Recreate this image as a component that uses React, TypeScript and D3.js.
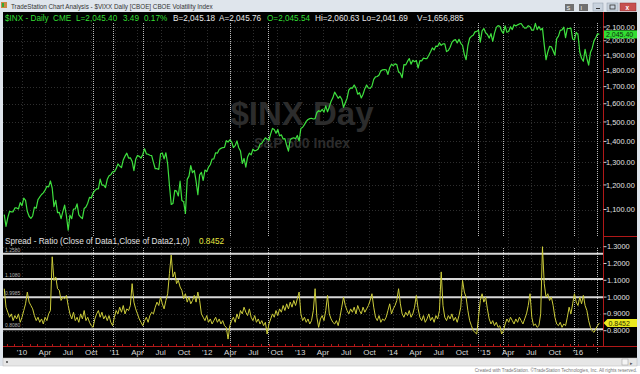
import React from "react";
import * as d3 from "d3";

// ---------- DATA ----------
const START = new Date(2009, 9, 23); // first weekly bar (Fri)

// $INX weekly closes
const priceWeekly = [
  1080, 1036, 1069, 1093, 1091, 1091, 1106, 1106, 1102, 1127, 1115,
  1145, 1136, 1092, 1074, 1066, 1075, 1109, 1105, 1139, 1150, 1160, 1167, 1178, 1194, 1192, 1217, 1187, 1111, 1136, 1088, 1089, 1065, 1092, 1117, 1076, 1022, 1078, 1065, 1102, 1102, 1122, 1079, 1071, 1065, 1104, 1110, 1125, 1148, 1146, 1166, 1176, 1183, 1183, 1225, 1199, 1199, 1189, 1224, 1240, 1244, 1257, 1258,
  1271, 1293, 1283, 1276, 1311, 1329, 1343, 1320, 1321, 1304, 1262, 1314, 1332, 1328, 1320, 1337, 1364, 1340, 1338, 1333, 1331, 1300, 1271, 1271, 1268, 1340, 1344, 1316, 1345, 1292, 1199, 1120, 1124, 1177, 1174, 1154, 1216, 1136, 1131, 1085, 1224, 1238, 1285, 1253, 1263, 1216, 1159, 1244, 1255, 1219, 1265, 1258,
  1278, 1289, 1315, 1316, 1345, 1343, 1361, 1366, 1370, 1371, 1404, 1397, 1408, 1398, 1370, 1379, 1403, 1369, 1353, 1295, 1318, 1278, 1325, 1343, 1335, 1362, 1354, 1357, 1363, 1386, 1391, 1405, 1418, 1411, 1406, 1438, 1466, 1460, 1441, 1461, 1428, 1433, 1412, 1414, 1380, 1353, 1409, 1416, 1418, 1413, 1430, 1402,
  1466, 1472, 1486, 1503, 1513, 1518, 1520, 1516, 1518, 1551, 1561, 1556, 1569, 1553, 1588, 1555, 1582, 1614, 1634, 1667, 1650, 1631, 1643, 1626, 1580, 1606, 1632, 1680, 1692, 1691, 1710, 1691, 1655, 1664, 1633, 1655, 1688, 1710, 1692, 1690, 1703, 1744, 1760, 1762, 1771, 1798, 1804, 1806, 1805, 1775, 1818, 1841,
  1831, 1843, 1838, 1790, 1782, 1755, 1838, 1836, 1859, 1878, 1841, 1866, 1857, 1865, 1816, 1864, 1863, 1881, 1878, 1878, 1900, 1924, 1950, 1936, 1963, 1961, 1985, 1968, 1978, 1978, 1925, 1932, 1955, 1988, 2003, 2008, 1985, 2010, 1982, 1968, 1906, 1870, 1965, 2018, 2032, 2040, 2064, 2068, 2075, 1990, 2071, 2089,
  2058, 2045, 2019, 2051, 1995, 2055, 2097, 2110, 2105, 2071, 2053, 2108, 2061, 2067, 2102, 2081, 2117, 2108, 2116, 2123, 2126, 2107, 2092, 2094, 2110, 2102, 2077, 2077, 2127, 2080, 2104, 2078, 2092, 1971, 1870, 1921, 1961, 1958, 1931, 1900, 2015, 2033, 2075, 2079, 2099, 2023, 2089, 2090, 2092, 2012, 2006, 2061, 2044,
  1922, 1880, 1860, 1940, 1880, 1835, 1918, 1948, 1999, 2022, 2050, 2045.4,
];

// Spread ratio weekly values
const ratioWeekly = [
  1.05, 0.94, 0.91, 0.88, 0.9, 0.86, 0.89, 0.87, 0.9, 0.85, 0.88, 0.92,
  0.96, 1.03, 0.97, 0.95, 0.93, 0.89, 0.86, 0.88, 0.85, 0.87, 0.84, 0.88,
  0.86, 0.9, 0.92, 1.24, 1.1, 1.12, 1.05, 1.04, 0.98, 1.0, 0.99, 1.01,
  0.95, 0.9, 0.87, 0.91, 0.86, 0.88, 0.85, 0.9, 0.87, 0.92, 0.86, 0.88,
  0.85, 0.83, 0.82, 0.87, 0.9, 0.92, 0.88, 0.91, 0.87, 0.89, 0.86, 0.89,
  0.85, 0.83, 0.88, 0.92, 0.9, 0.94, 0.91, 0.95, 0.9, 0.93, 0.92, 0.95,
  1.08, 0.97, 0.93, 0.9, 0.87, 0.85, 0.83, 0.86, 0.88, 0.85, 0.89, 0.91,
  0.9, 0.94, 0.97, 0.95, 1.0, 0.96, 0.93, 0.98, 1.02, 1.14, 1.25, 1.12,
  1.15, 1.08, 1.1, 1.06, 1.04, 0.99, 1.02, 0.97, 1.0, 0.96, 0.98, 1.01,
  0.97, 1.03, 0.98, 0.9, 0.88, 0.86, 0.89, 0.85, 0.87, 0.84, 0.86, 0.88,
  0.85, 0.87, 0.84, 0.86, 0.83, 0.82, 0.75, 0.83, 0.86, 0.88, 0.85, 0.9,
  0.87, 0.92, 0.9, 0.94, 0.91, 0.89, 0.93, 0.88, 0.86, 0.89, 0.85, 0.87,
  0.84, 0.86, 0.83, 0.85, 0.78, 0.84, 0.87, 0.9, 0.88, 0.92, 0.89, 0.93,
  0.91, 0.95, 0.92, 0.96, 0.93, 0.97, 0.94, 0.98, 0.95, 0.99, 1.03, 0.9,
  0.86, 0.88, 0.85, 0.87, 0.84, 0.86, 0.92, 1.05, 0.88, 0.82, 0.87, 0.89,
  0.86, 0.92, 1.01, 0.9, 0.87, 0.85, 0.84, 0.86, 0.83, 0.88, 0.94, 1.0,
  0.95, 0.92, 0.9, 0.93, 0.91, 0.94, 0.9, 0.95, 0.92, 0.9, 0.94, 0.91,
  0.93, 0.95, 0.98, 1.02, 0.94, 0.88, 0.86, 0.89, 0.85, 0.87, 0.86, 0.88,
  0.92, 0.96, 0.9, 0.93, 0.95, 0.98, 1.05, 0.96, 0.9, 0.88, 0.91, 0.89,
  0.92, 0.88, 0.9, 0.94, 1.01, 0.93, 0.88, 0.86, 0.89, 0.85, 0.87, 0.9,
  0.86, 0.88, 0.85, 0.89, 0.87, 0.92, 1.15, 0.95, 0.88, 0.86, 0.89, 0.87,
  0.9, 0.86, 0.88, 0.85, 0.89, 0.94, 1.1, 1.03, 1.0, 0.92, 0.86, 0.83,
  0.8, 0.79, 0.78, 0.88, 0.98, 1.02, 0.97, 1.0, 0.93, 0.87, 0.84, 0.86,
  0.83, 0.85, 0.82, 0.83, 0.78, 0.8, 0.84, 0.87, 0.85, 0.88, 0.86, 0.84,
  0.87, 0.85, 0.88, 0.86, 0.84, 0.87, 0.9, 0.95, 1.02, 0.88, 0.83, 0.84,
  0.82, 0.83, 0.9, 1.3, 1.08, 1.0, 1.02, 0.98, 1.0, 0.95, 0.88, 0.84,
  0.83, 0.85, 0.82, 0.84, 0.83, 0.88, 0.94, 0.9, 0.96, 1.02, 0.97, 0.95,
  1.0, 0.96, 1.01, 0.95, 0.92, 0.86, 0.82, 0.8, 0.79, 0.81, 0.83, 0.8452,
];

const priceTicks = [1100, 1200, 1300, 1400, 1500, 1600, 1700, 1800, 1900, 2000, 2100];
const ratioTicks = [0.8, 0.9, 1.0, 1.1, 1.2, 1.3];
const ratioLevels = [1.258, 1.108, 0.9985, 0.808];
const ratioLevelLabels = ["1.2580", "1.1080", "0.9985", "0.8080"];
const signalDates = [
  "2010-10-07", "2010-12-25", "2011-04-22", "2012-03-30", "2012-08-27",
  "2014-12-02", "2015-03-10", "2015-12-15", "2016-03-16",
];
const lastPrice = 2045.4;
const lastRatio = 0.8452;

const headerParts: [number, string, string][] = [
  [5, "$INX - Daily", "#33dd33"],
  [53, "CME", "#33dd33"],
  [76, "L=2,045.40", "#33dd33"],
  [123, "3.49", "#33dd33"],
  [144, "0.17%", "#33dd33"],
  [173, "B=2,045.18", "#e8e8e8"],
  [219, "A=2,045.76", "#e8e8e8"],
  [267, "O=2,045.54", "#33dd33"],
  [315, "Hi=2,060.63", "#e8e8e8"],
  [362, "Lo=2,041.69", "#e8e8e8"],
  [417, "V=1,656,885", "#e8e8e8"],
];

const FONT = "'Liberation Sans', Arial, sans-serif";

export default function App() {
  const W = 640;
  const H = 374;
  const plotL = 3;
  const axisX = 603.5;
  const mainTop = 12;
  const sepY = 236.5;
  const xAxisY = 346.5;

  const x = d3.scaleTime().domain([new Date(2010, 0, 1), new Date(2016, 0, 1)]).range([22, 578]);
  const yP = d3.scaleLog().domain([1100, 2100]).range([209.5, 27]);
  const yR = d3.scaleLinear().domain([0.8, 1.3]).range([330.7, 246.7]);
  const weekDate = (i: number) => d3.timeDay.offset(START, 7 * i);

  const priceLine = d3.line<number>().x((_, i) => x(weekDate(i))).y((d) => yP(d));
  const ratioLine = d3.line<number>().x((_, i) => x(weekDate(i))).y((d) => yR(d));

  const quarters = d3.timeMonth.every(3)!.range(new Date(2010, 0, 1), new Date(2016, 0, 2));
  const months = d3.timeMonth.range(new Date(2009, 10, 1), new Date(2016, 3, 1));
  const qLabel = (d: Date) => (d.getMonth() === 0 ? "'" + String(d.getFullYear() % 100).padStart(2, "0") : d3.timeFormat("%b")(d));
  const fmtP = d3.format(",.2f");
  const fmtR = d3.format(".4f");
  const parse = d3.timeParse("%Y-%m-%d");

  const pY = yP(lastPrice);
  const rY = yR(lastRatio);

  return (
    <svg width={W} height={H} style={{ position: "absolute", left: 0, top: 0, fontFamily: FONT }}>
      {/* window frame */}
      <rect x={0} y={0} width={W} height={H} fill="#dfe5ec" />
      <rect x={0} y={366} width={W} height={8} fill="#ffffff" />
      <rect x={plotL} y={mainTop} width={634} height={346} fill="#000" />
      {/* title bar */}
      <rect x={1} y={2} width={6} height={6} fill="#c84" />
      <rect x={2} y={3} width={2} height={4} fill="#3a3" />
      <text x={11} y={8.6} fontSize={6.3} fill="#333">
        TradeStation Chart Analysis - $VIXX Daily [CBOE] CBOE Volatility Index
      </text>
      <rect x={565} y={4} width={9} height={7} fill="#707070" />
      <text x={566.5} y={9.8} fontSize={5.5} fill="#fff">S</text>
      <rect x={579} y={4} width={9} height={7} fill="#707070" />
      <text x={580.5} y={9.8} fontSize={5.5} fill="#fff">I</text>
      <rect x={593} y={3} width={10} height={8} fill="#c9d3de" stroke="#8e9aa8" strokeWidth={0.5} />
      <rect x={596} y={8} width={4} height={1} fill="#333" />
      <rect x={607} y={3} width={11} height={8} fill="#c9d3de" stroke="#8e9aa8" strokeWidth={0.5} />
      <rect x={610} y={5} width={5} height={4} fill="none" stroke="#333" strokeWidth={0.8} />
      <rect x={620} y={3} width={16} height={8} fill="#c75050" stroke="#8a3030" strokeWidth={0.5} />
      <text x={625.5} y={9.6} fontSize={6.5} fill="#fff" fontWeight="bold">x</text>

      {/* grid */}
      <g stroke="#2e2e2e" strokeWidth={1} strokeDasharray="1,2">
        {priceTicks.map((t) => (
          <line key={"gp" + t} x1={plotL} x2={axisX} y1={Math.round(yP(t)) + 0.5} y2={Math.round(yP(t)) + 0.5} />
        ))}
        {ratioTicks.map((t) => (
          <line key={"gr" + t} x1={plotL} x2={axisX} y1={Math.round(yR(t)) + 0.5} y2={Math.round(yR(t)) + 0.5} />
        ))}
        {quarters.map((d) => (
          <line key={"gx" + d.getTime()} x1={Math.round(x(d)) + 0.5} x2={Math.round(x(d)) + 0.5} y1={24} y2={xAxisY} />
        ))}
      </g>

      {/* watermark */}
      <text x={302} y={125} fontSize={33} fontWeight="bold" fill="#2c2c2c" textAnchor="middle">$INX Day</text>
      <text x={302} y={148} fontSize={14} fontWeight="bold" fill="#2c2c2c" textAnchor="middle">S&amp;P 500 Index</text>

      {/* signal markers */}
      <g stroke="#b8b8b8" strokeWidth={1} strokeDasharray="1,1">
        {signalDates.map((s) => {
          const xx = Math.round(x(parse(s)!)) + 0.5;
          return (
            <g key={s}>
              <line x1={xx} x2={xx} y1={23} y2={sepY} />
              <line x1={xx} x2={xx} y1={248} y2={xAxisY + 6} />
            </g>
          );
        })}
      </g>

      {/* ratio levels */}
      {ratioLevels.map((v, i) => (
        <g key={"lvl" + v}>
          <line x1={plotL} x2={axisX} y1={yR(v)} y2={yR(v)} stroke="#d8d8d8" strokeWidth={2} />
          <text x={5} y={yR(v) - 2.2} fontSize={5} fill="#b0b0b0">{ratioLevelLabels[i]}</text>
        </g>
      ))}

      {/* series */}
      <path d={priceLine(priceWeekly) || ""} fill="none" stroke="#3ee03e" strokeWidth={1.2} strokeLinejoin="round" />
      <path d={ratioLine(ratioWeekly) || ""} fill="none" stroke="#cccc3a" strokeWidth={1} strokeLinejoin="round" />

      {/* header texts */}
      {headerParts.map(([hx, t, c]) => (
        <text key={t} x={hx} y={20.5} fontSize={8.2} fill={c}>{t}</text>
      ))}
      <text x={5} y={244} fontSize={8.2} fill="#e0e0e0">Spread - Ratio (Close of Data1,Close of Data2,1,0)</text>
      <text x={199} y={244} fontSize={8.2} fill="#e6e640">{fmtR(lastRatio)}</text>

      {/* right axis */}
      <line x1={axisX} x2={axisX} y1={mainTop} y2={xAxisY} stroke="#b01818" strokeWidth={1} />
      <line x1={axisX} x2={637} y1={sepY} y2={sepY} stroke="#b01818" strokeWidth={1} />
      {priceTicks.map((t) => (
        <g key={"pt" + t}>
          <line x1={axisX} x2={axisX + 3} y1={yP(t)} y2={yP(t)} stroke="#ccc" />
          <text x={606} y={yP(t)} dy="0.35em" fontSize={7.4} fill="#e0e0e0">{fmtP(t)}</text>
        </g>
      ))}
      {ratioTicks.map((t) => (
        <g key={"rt" + t}>
          <line x1={axisX} x2={axisX + 3} y1={yR(t)} y2={yR(t)} stroke="#ccc" />
          <text x={607} y={yR(t)} dy="0.35em" fontSize={7.4} fill="#e0e0e0">{fmtR(t)}</text>
        </g>
      ))}
      <rect x={604} y={pY - 4} width={33} height={8} fill="#33dd33" />
      <text x={606} y={pY} dy="0.35em" fontSize={7} fill="#103010">{fmtP(lastPrice)}</text>
      <path d={`M${axisX},${rY} L${axisX + 4},${rY - 4} L637,${rY - 4} L637,${rY + 4} L${axisX + 4},${rY + 4} Z`} fill="#eaea20" />
      <text x={608.5} y={rY} dy="0.35em" fontSize={7} fill="#303000">{fmtR(lastRatio)}</text>

      {/* x axis */}
      <line x1={plotL} x2={637} y1={xAxisY} y2={xAxisY} stroke="#b01818" strokeWidth={1} />
      {months.map((d) => (
        <line key={"mt" + d.getTime()} x1={Math.round(x(d)) + 0.5} x2={Math.round(x(d)) + 0.5} y1={xAxisY - 2.5} y2={xAxisY} stroke="#b01818" />
      ))}
      {quarters.map((d) => (
        <text key={"ql" + d.getTime()} x={x(d)} y={355} fontSize={8} fill="#d8d8d8" textAnchor="middle">{qLabel(d)}</text>
      ))}

      {/* scrollbar + credit */}
      <rect x={plotL} y={358} width={634} height={8} fill="#e6e6e6" stroke="#b8b8b8" strokeWidth={0.5} />
      <circle cx={7} cy={362} r={0.9} fill="#333" />
      <rect x={622} y={359} width={6} height={6} fill="#f4f4f4" stroke="#999" strokeWidth={0.5} />
      <text x={630} y={364.5} fontSize={5} fill="#555">▸</text>
      <text x={637} y={372} fontSize={4.6} fill="#777" textAnchor="end">
        Created with TradeStation. ©TradeStation Technologies, Inc. All rights reserved.
      </text>
    </svg>
  );
}
